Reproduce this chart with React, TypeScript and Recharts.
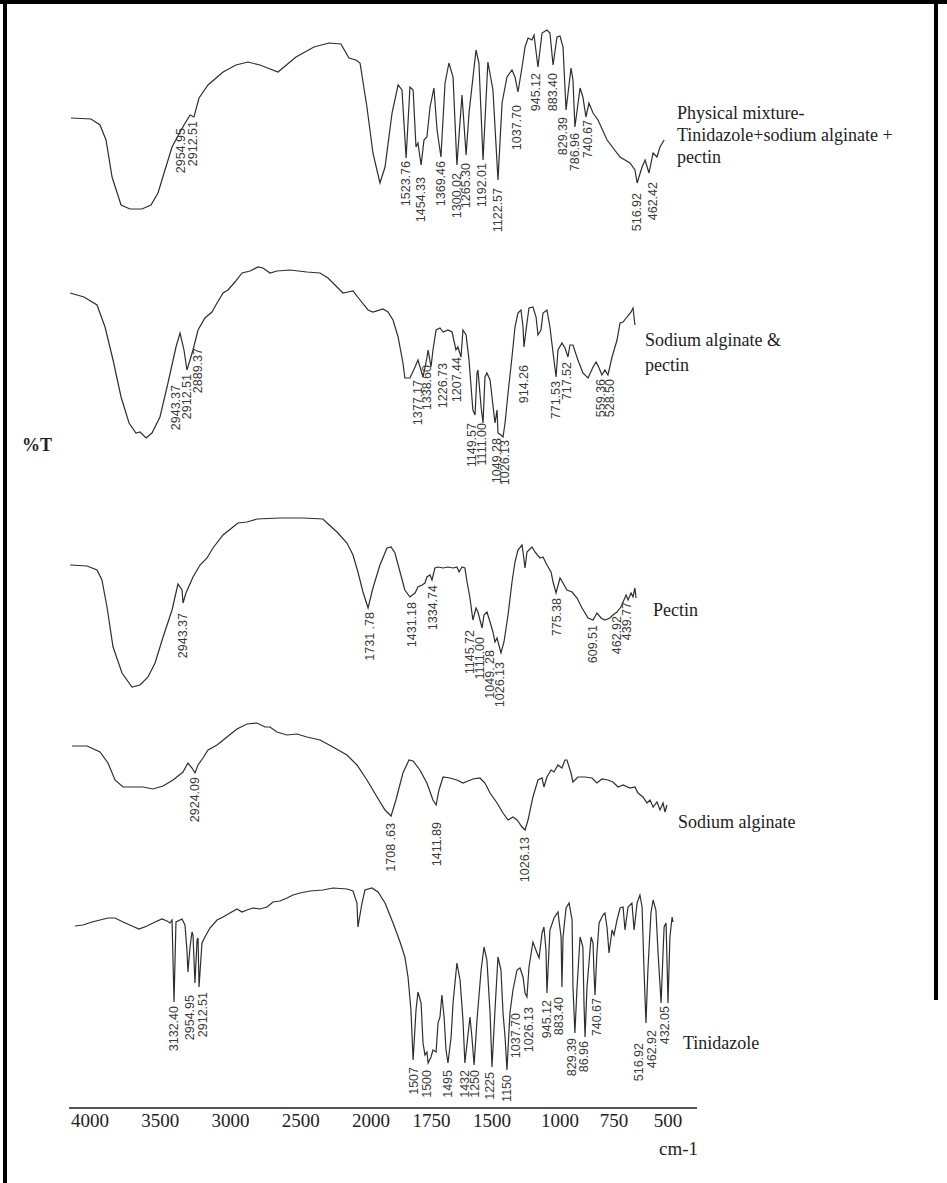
import React from 'react';
import { ComposedChart, Line, Scatter, XAxis, YAxis } from 'recharts';

// Axis tick labels (cm-1) as printed under the figure
const TICKS = [4000, 3500, 3000, 2500, 2000, 1750, 1500, 1000, 750, 500];

// Piecewise scale of the printed wavenumber axis (wavenumber -> axis position)
const SCALE_ANCHORS: [number, number][] = [
  [4000, 90], [2000, 371], [1500, 492], [1000, 560], [500, 668],
];
const toPos = (w: number): number => {
  const a = SCALE_ANCHORS;
  for (let i = 0; i < a.length - 1; i++) {
    const [w0, p0] = a[i];
    const [w1, p1] = a[i + 1];
    if (w >= w1 || i === a.length - 2) return p0 + ((w0 - w) * (p1 - p0)) / (w0 - w1);
  }
  return 0;
};

// Spectra: [wavenumber, relative %T]
const MIXTURE: [number, number][] = [
  [4135,51],[3993,50.5],[3929,47.5],[3886,40],[3843,21.5],[3779,7.5],[3715,5.5],[3630,5.5],[3566,7.5],[3516,13.5],[3473,23.5],[3416,36.5],[3359,44],[3331,47.5],[3288,52.5],[3260,51.5],[3224,61],[3160,67.5],[3053,74],[2961,77.5],[2876,79],[2790,77.5],[2662,74],[2534,81.5],[2406,86.5],[2299,88.5],[2214,88],[2157,81],[2107,80],[2078,78.5],[2029,56.5],[1992,33.5],[1963,18.5],[1942,26.5],[1913,53.5],[1888,67.5],[1872,65],[1855,31],[1839,66.5],[1826,65],[1814,36.5],[1806,38.5],[1793,27.5],[1781,40],[1769,41.5],[1756,56.5],[1740,66],[1727,45],[1711,31.5],[1694,68.5],[1678,78.5],[1661,71.5],[1645,27.5],[1624,62.5],[1607,32.5],[1595,53.5],[1566,85],[1554,78.5],[1537,30],[1517,79],[1493,65],[1456,20],[1426,58.5],[1390,71.5],[1353,75],[1331,71.5],[1309,64],[1279,76.5],[1257,86.5],[1235,91],[1206,90],[1191,92.5],[1162,76.5],[1132,93.5],[1096,95],[1074,93.5],[1051,77.5],[1022,91.5],[1000,92],[986,86.5],[972,55],[949,76],[940,70],[931,46.5],[907,66],[894,61.5],[880,51.5],[866,58.5],[847,53.5],[824,50],[782,40],[722,31.5],[676,28.5],[653,25],[643,18.5],[620,26.5],[606,30],[588,23.5],[569,33.5],[551,31.5],[537,36.5],[518,40],
];
const SA_PECTIN: [number, number][] = [
  [4142,83.5],[4043,81.5],[3950,77.5],[3893,66.5],[3836,50],[3779,31.5],[3722,18.5],[3673,13.5],[3644,14],[3601,11],[3559,13.5],[3502,21.5],[3445,38.5],[3388,56.5],[3359,63.5],[3331,55],[3310,45],[3288,50],[3267,55],[3231,65],[3182,71],[3132,74],[3096,78.5],[3053,83.5],[3018,85],[2968,89],[2918,93.5],[2861,94.5],[2804,96.5],[2769,96],[2719,93.5],[2669,94.5],[2577,95],[2456,94],[2363,93.5],[2306,91],[2242,86.5],[2199,83.5],[2164,84],[2128,84.5],[2078,80],[2021,75],[1992,74],[1950,75.5],[1930,74],[1909,70],[1888,61.5],[1868,48.5],[1860,41],[1839,41],[1818,46.5],[1806,50],[1785,41.5],[1769,51],[1764,55],[1752,46.5],[1744,55],[1731,65],[1715,66],[1702,64],[1682,65],[1665,64],[1649,55],[1641,56.5],[1628,51.5],[1620,65],[1607,62.5],[1595,50],[1579,25],[1570,22.5],[1562,43.5],[1558,45],[1545,26.5],[1537,18.5],[1529,41.5],[1521,43.5],[1508,40],[1500,31.5],[1478,18.5],[1463,25],[1456,13.5],[1434,12.5],[1419,11.5],[1404,18.5],[1382,33.5],[1353,51.5],[1331,66.5],[1309,73.5],[1287,75],[1272,66.5],[1265,56.5],[1243,68.5],[1228,76],[1199,76.5],[1176,71.5],[1162,62.5],[1140,65],[1125,73.5],[1096,75],[1074,66.5],[1051,53.5],[1029,41.5],[1015,55],[991,58.5],[977,56],[963,51.5],[954,57.5],[940,57.5],[917,50],[894,43.5],[870,41],[847,46.5],[833,49],[819,46],[806,42.5],[792,45],[778,42.5],[759,51.5],[736,60],[722,68.5],[708,69],[690,71.5],[671,74],[662,76],[653,67.5],
];
const PECTIN: [number, number][] = [
  [4142,72.5],[4021,72],[3950,70],[3915,65],[3879,51.5],[3836,31.5],[3772,18.5],[3701,11.5],[3644,12.5],[3587,16.5],[3537,23.5],[3480,36.5],[3416,50],[3374,63],[3345,60],[3338,53.5],[3317,58.5],[3267,66.5],[3217,72.5],[3167,76],[3125,81],[3053,87.5],[2982,91.5],[2947,93.5],[2883,94],[2811,95.5],[2648,96],[2484,96],[2342,95.5],[2313,93.5],[2242,89],[2171,83.5],[2128,77.5],[2093,69],[2057,59],[2021,51],[1992,61],[1963,72.5],[1934,81],[1917,81.5],[1901,78.5],[1880,69],[1860,60],[1839,56.5],[1818,58.5],[1806,61.5],[1789,62.5],[1777,63.5],[1769,66.5],[1756,67.5],[1748,65],[1736,71],[1723,71.5],[1702,71],[1682,71.5],[1661,71],[1645,71.5],[1636,69],[1624,71.5],[1612,71],[1603,64],[1591,56],[1579,45],[1566,51],[1558,49],[1541,41],[1533,47.5],[1521,49],[1508,44],[1493,39],[1478,34],[1463,36],[1434,28.5],[1412,34],[1382,47.5],[1353,64],[1331,74],[1309,80],[1279,82.5],[1272,79],[1257,71],[1243,79],[1206,81.5],[1184,79],[1147,76],[1125,76.5],[1096,72.5],[1066,69],[1051,64],[1029,58.5],[1000,66],[986,63.5],[968,60],[944,59],[921,56],[898,51],[870,46],[847,45],[829,48.5],[810,46],[792,45],[769,46],[755,47.5],[736,49],[718,51.5],[708,54],[694,57.5],[685,55],[671,58.5],[662,56.5],[653,61],[648,56],
];
const ALGINATE: [number, number][] = [
  [4128,82],[4021,82],[3929,79],[3872,73.5],[3822,65],[3765,61.5],[3694,61.5],[3623,61.5],[3552,60.5],[3480,62],[3409,65],[3338,69],[3303,73.5],[3274,71],[3253,68.5],[3231,72.5],[3196,76],[3160,80],[3096,82.5],[3025,86.5],[2954,90.5],[2883,93],[2811,93.5],[2755,91.5],[2719,91.5],[2669,89],[2598,87.5],[2527,88],[2456,86.5],[2363,85],[2271,81.5],[2171,77.5],[2100,72.5],[2029,65],[1975,56.5],[1942,50],[1917,47],[1897,55],[1868,68.5],[1843,75],[1826,74.5],[1798,70],[1769,63.5],[1744,55],[1731,52.5],[1719,60],[1702,66.5],[1674,66],[1645,65],[1620,63.5],[1599,64.5],[1579,65.5],[1550,66],[1529,63.5],[1508,58.5],[1463,53.5],[1419,48.5],[1382,45],[1346,46.5],[1316,45],[1279,41.5],[1257,40],[1235,45],[1199,56.5],[1162,65],[1132,66],[1118,61.5],[1096,66.5],[1066,70],[1044,69],[1015,72.5],[991,71],[977,75],[968,75],[949,68.5],[940,64],[917,66.5],[884,66.5],[852,66],[829,63.5],[806,65.5],[778,65],[755,64],[731,61.5],[708,62.5],[676,61],[653,61.5],[639,58.5],[616,56.5],[597,53.5],[583,55],[569,51.5],[551,54],[537,50],[523,53.5],[514,49],[505,52.5],
];
const TINIDAZOLE: [number, number][] = [
  [4107,91],[4050,91.5],[3986,93],[3929,94],[3872,95],[3822,95],[3765,93],[3701,91],[3651,89.5],[3594,91],[3537,93],[3488,94.5],[3452,93.5],[3431,92.5],[3416,94],[3402,53],[3388,93],[3345,94.5],[3324,91.5],[3310,79],[3303,68],[3288,80.5],[3274,88],[3267,86.5],[3253,62.5],[3238,84],[3231,85],[3224,60.5],[3203,82.5],[3182,85.5],[3146,90],[3096,94],[3053,95.5],[3004,97.5],[2954,99.5],[2918,98],[2883,99],[2840,100],[2790,99.5],[2740,100.5],[2698,103],[2648,103.5],[2598,105],[2555,106.5],[2505,107.5],[2434,108.5],[2342,109],[2271,110],[2171,109.5],[2128,108.5],[2100,102.5],[2093,90.5],[2064,102.5],[2043,109],[1996,110],[1971,108],[1942,102.5],[1909,92.5],[1880,83],[1860,75.5],[1847,65.5],[1835,49],[1826,24],[1814,49],[1806,58],[1793,52.5],[1785,32.5],[1777,26.5],[1769,28],[1764,22.5],[1752,25.5],[1744,29],[1731,28],[1723,42.5],[1715,45.5],[1707,56.5],[1698,45.5],[1690,29],[1682,22.5],[1669,35.5],[1661,52.5],[1645,72.5],[1632,64],[1620,44],[1612,22.5],[1603,32.5],[1591,45.5],[1583,35.5],[1574,21.5],[1562,44],[1545,69],[1533,80.5],[1521,74],[1508,47.5],[1500,20.5],[1478,49],[1456,75.5],[1434,69],[1419,47.5],[1404,35.5],[1390,19],[1368,47.5],[1346,59],[1316,69],[1294,70],[1272,65.5],[1257,57.5],[1243,55.5],[1228,70.5],[1199,83],[1169,77.5],[1154,75],[1132,87.5],[1118,90.5],[1103,79],[1096,57.5],[1074,89],[1044,95],[1015,98],[995,85.5],[991,60.5],[986,85.5],[972,100],[958,102.5],[944,94],[940,60.5],[931,37.5],[921,60.5],[907,85.5],[894,80.5],[889,52.5],[884,35.5],[875,60.5],[856,85.5],[847,82.5],[843,69],[838,56.5],[829,77.5],[819,92.5],[801,96.5],[792,97.5],[782,90],[773,77.5],[759,89],[750,86.5],[736,94],[722,100],[708,100.5],[699,89],[685,100.5],[667,102.5],[657,89],[643,102.5],[630,106.5],[620,100.5],[611,69],[602,42.5],[593,69],[579,97.5],[569,104],[556,99],[546,77.5],[532,52.5],[523,77.5],[518,90.5],[509,92.5],[505,75.5],[500,52.5],[491,85.5],[481,95.5],[477,93],
];

// Peak annotations: [wavenumber, %T at label top, text]
const MIXTURE_PEAKS: [number, number, string][] = [
  [3352,46,'2954.95'],[3267,49.5,'2912.51'],[1855,29.5,'1523.76'],[1793,21.5,'1454.33'],[1711,29.5,'1369.46'],[1645,23.5,'1300.02'],[1607,28.5,'1265.30'],[1541,28.5,'1192.01'],[1456,16,'1122.57'],[1316,57.5,'1037.70'],[1176,73.5,'945.12'],[1051,73.5,'883.40'],[986,51.5,'829.39'],[931,43.5,'786.96'],[870,50,'740.67'],[643,13.5,'516.92'],[569,19,'462.42'],
];
const SA_PECTIN_PEAKS: [number, number, string][] = [
  [3388,37.5,'2943.37'],[3310,43,'2912.51'],[3231,56,'2889.37'],[1806,40,'1377.17'],[1769,47.5,'1338.60'],[1702,48.5,'1226.73'],[1645,51.5,'1207.44'],[1583,18.5,'1149.57'],[1541,18.5,'1111.00'],[1463,11,'1049.28'],[1404,10,'1026.13'],[1265,47.5,'914.26'],[1029,39.5,'771.53'],[968,49,'717.52'],[810,40.5,'559.36'],[769,40.5,'528.50'],
];
const PECTIN_PEAKS: [number, number, string][] = [
  [3338,48.5,'2943.37'],[2007,49,'1731 .78'],[1831,54,'1431.18'],[1744,62.5,'1334.74'],[1591,40,'1145.72'],[1550,36.5,'1111.00'],[1508,30,'1049. 28'],[1441,24,'1026.13'],[1022,56,'775.38'],[847,42.5,'609.51'],[736,47,'462.92'],[690,54,'439.77'],
];
const ALGINATE_PEAKS: [number, number, string][] = [
  [3253,66.5,'2924.09'],[1917,43.5,'1708 .63'],[1727,44,'1411.89'],[1257,36.5,'1026.13'],
];
const TINIDAZOLE_PEAKS: [number, number, string][] = [
  [3402,51,'3132.40'],[3288,56.5,'2954.95'],[3196,58,'2912.51'],[1822,20.5,'1507'],[1769,19,'1500'],[1682,19,'1495'],[1612,19,'1432'],[1570,19,'1250'],[1508,18,'1225'],[1390,16.5,'1150'],[1324,47.5,'1037.70'],[1228,50.5,'1026.13'],[1096,54,'945.12'],[1007,55.5,'883.40'],[944,35,'829.39'],[889,33.5,'86.96'],[829,55,'740.67'],[634,32.5,'516.92'],[574,39,'462.92'],[514,51,'432.05'],
];

const PANELS = [
  { id: 'mix', spectrum: MIXTURE, peaks: MIXTURE_PEAKS, domain: [-444, 96] },
  { id: 'sap', spectrum: SA_PECTIN, peaks: SA_PECTIN_PEAKS, domain: [-324, 216] },
  { id: 'pec', spectrum: PECTIN, peaks: PECTIN_PEAKS, domain: [-199, 341] },
  { id: 'alg', spectrum: ALGINATE, peaks: ALGINATE_PEAKS, domain: [-99, 441] },
  { id: 'tin', spectrum: TINIDAZOLE, peaks: TINIDAZOLE_PEAKS, domain: [0, 540] },
];

const SERIF = '"Liberation Serif", "Times New Roman", serif';
const SANS = '"Liberation Sans", Arial, sans-serif';
const INK = '#2e2e2e';

const TICK_POS = TICKS.map(toPos);

const AxisTick = (props: any) => {
  const { x, y, payload } = props;
  const idx = TICK_POS.findIndex((p) => Math.abs(p - payload.value) < 1e-6);
  return (
    <text x={x} y={y + 19} textAnchor="middle" fontFamily={SERIF} fontSize={19} fill="#222">
      {idx >= 0 ? String(TICKS[idx]) : ''}
    </text>
  );
};

const PeakLabel = (props: any) => {
  const { cx, cy, payload } = props;
  if (cx == null || cy == null) return null;
  return (
    <text
      x={cx}
      y={cy}
      transform={`rotate(-90 ${cx} ${cy})`}
      textAnchor="end"
      dominantBaseline="central"
      fontFamily={SANS}
      fontSize={12.5}
      fill="#3a3a3a"
    >
      {payload.t}
    </text>
  );
};

export default function App() {
  const series = PANELS.map((p) => ({
    ...p,
    rows: p.spectrum.map(([w, v]) => ({ p: toPos(w), v })),
    labels: p.peaks.map(([w, v, t]) => ({ p: toPos(w), v, t })),
  }));

  return (
    <div style={{ position: 'absolute', left: 0, top: 0, width: 947, height: 1183, background: '#fff' }}>
      <ComposedChart width={947} height={1183} margin={{ top: 28, right: 250, bottom: 45, left: 69 }}>
        <XAxis
          type="number"
          dataKey="p"
          domain={[69, 697]}
          ticks={TICK_POS}
          interval={0}
          tickLine={false}
          tickSize={0}
          tickMargin={0}
          height={30}
          axisLine={{ stroke: '#555', strokeWidth: 2 }}
          tick={<AxisTick />}
        />
        {series.map((s) => (
          <YAxis
            key={s.id}
            yAxisId={s.id}
            type="number"
            dataKey="v"
            domain={s.domain as [number, number]}
            hide={s.id !== 'tin'}
            width={0}
            tick={false}
            tickLine={false}
            axisLine={{ stroke: '#444', strokeWidth: 1.5 }}
          />
        ))}
        {series.map((s) => (
          <Line
            key={'l' + s.id}
            yAxisId={s.id}
            data={s.rows}
            dataKey="v"
            type="linear"
            stroke={INK}
            strokeWidth={1.2}
            dot={false}
            activeDot={false}
            isAnimationActive={false}
          />
        ))}
        {series.map((s) => (
          <Scatter
            key={'s' + s.id}
            yAxisId={s.id}
            data={s.labels}
            dataKey="v"
            shape={<PeakLabel />}
            isAnimationActive={false}
          />
        ))}
      </ComposedChart>
      <svg
        width={947}
        height={1183}
        style={{ position: 'absolute', left: 0, top: 0, pointerEvents: 'none' }}
      >
        <rect x={3} y={0} width={4} height={1183} fill="#000" />
        <rect x={0} y={0} width={947} height={4} fill="#000" />
        <rect x={934} y={0} width={4} height={1000} fill="#000" />
        <g fontFamily={SERIF} fontSize={18} fill="#222">
          <text x={677} y={119}>Physical mixture-</text>
          <text x={677} y={141}>Tinidazole+sodium alginate +</text>
          <text x={677} y={163}>pectin</text>
          <text x={645} y={346}>Sodium alginate &amp;</text>
          <text x={645} y={371}>pectin</text>
          <text x={653} y={616}>Pectin</text>
          <text x={678} y={828}>Sodium alginate</text>
          <text x={683} y={1049}>Tinidazole</text>
          <text x={659} y={1155} fontSize={19}>cm-1</text>
          <text x={22} y={451} fontWeight="bold">%T</text>
        </g>
      </svg>
    </div>
  );
}
